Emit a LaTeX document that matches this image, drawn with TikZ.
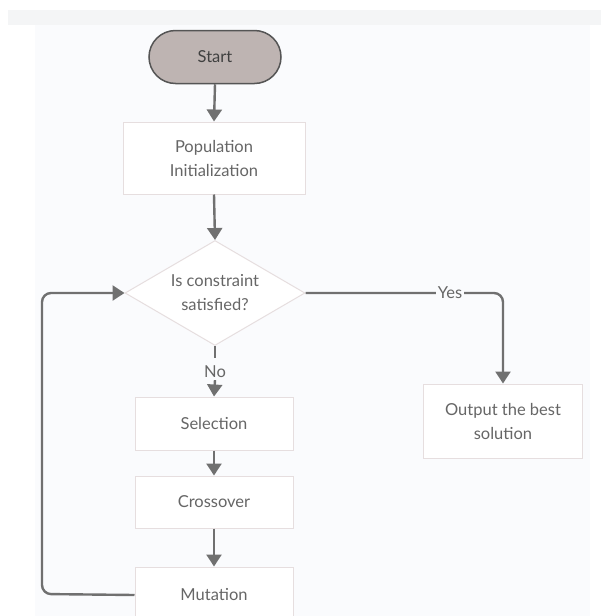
\documentclass[tikz,border=0pt]{standalone}
\usepackage{fontspec}
\setmainfont{Lato}
\usetikzlibrary{arrows.meta,shapes.geometric,shapes.misc}
\definecolor{linegray}{HTML}{707070}
\definecolor{txtgray}{HTML}{666666}
\definecolor{boxline}{HTML}{E6DEDF}
\definecolor{startfill}{HTML}{BEB4B2}
\definecolor{startline}{HTML}{555555}
\definecolor{panel}{HTML}{FAFBFD}
\definecolor{strip}{HTML}{F4F5F6}
\tikzset{
  procbox/.style={draw=boxline, line width=1pt, fill=white, text=txtgray, font=\fontsize{16.5}{24}\selectfont, align=center, inner sep=0pt},
  conn/.style={draw=linegray, line width=2.4pt, -{Triangle[length=12pt,width=15pt]}, rounded corners=9pt},
  plain/.style={draw=linegray, line width=2.4pt, rounded corners=9pt},
  lbl/.style={fill=panel, text=txtgray, font=\fontsize{16.5}{24}\selectfont, inner sep=2pt}
}
\begin{document}
\begin{tikzpicture}[x=1pt,y=-1pt]
\useasboundingbox (0,0) rectangle (601,616);
\fill[white] (0,0) rectangle (601,616);
\fill[strip] (8,10) rectangle (601,25);
\fill[panel] (35,25) rectangle (590,616);
\begin{scope}
\clip (0,0) rectangle (601,616);
\node[draw=startline, line width=1.5pt, fill=startfill, rounded rectangle, minimum width=132pt, minimum height=53pt, text=black!75, font=\fontsize{16.5}{24}\selectfont, inner sep=0pt] (start) at (215,57) {Start};
\node[procbox, minimum width=182pt, minimum height=72pt] (pop) at (214,158) {Population\\Initialization};
\node[procbox, diamond, aspect=1.72, minimum width=180pt, minimum height=105pt, inner sep=0pt] (dec) at (215,293) {Is constraint\\satisfied?};
\node[procbox, minimum width=159pt, minimum height=74pt] (out) at (503,421) {Output the best\\solution};
\node[procbox, minimum width=158pt, minimum height=53pt] (sel) at (214,423.5) {Selection};
\node[procbox, minimum width=158pt, minimum height=52pt] (cro) at (214,502) {Crossover};
\node[procbox, minimum width=158pt, minimum height=56pt] (mut) at (214,595) {Mutation};
\end{scope}
\coordinate (yb) at (503,293);
\coordinate (ll) at (42,594);
\coordinate (lt) at (42,293);
\draw[conn] (start.south) -- (pop.north);
\draw[conn] (pop.south) -- (dec.north);
\draw[conn] (dec.east) -- (yb) -- (out.north);
\node[lbl] at (450,293) {Yes};
\draw[plain] (dec.south) -- ++(0,12);
\node[text=txtgray, font=\fontsize{16.5}{24}\selectfont, inner sep=2pt] (no) at (215,372) {No};
\draw[conn] (no.south) -- (sel.north);
\draw[conn] (sel.south) -- (cro.north);
\draw[conn] (cro.south) -- (mut.north);
\draw[conn] (mut.west) -- (ll) -- (lt) -- (dec.west);
\end{tikzpicture}
\end{document}
